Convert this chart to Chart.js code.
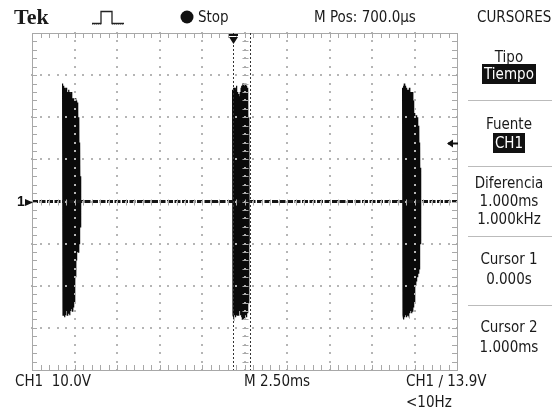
<!DOCTYPE html>
<html>
<head>
<meta charset="utf-8">
<script src="https://cdn.jsdelivr.net/npm/chart.js@4.4.1/dist/chart.umd.min.js"></script>
<style>
  body { margin: 0; background: #fff; }
  #wrap { position: relative; width: 556px; height: 416px; overflow: hidden; }
  #scope { position: absolute; left: 0; top: 0; }
  .s {
    position: absolute; white-space: nowrap; line-height: 1; color: #1a1a1a;
    font-family: "Liberation Sans Narrow", "DejaVu Sans Condensed", "Liberation Sans", sans-serif;
    font-size: 15px;
  }
  .c { left: 464px; width: 90px; text-align: center; }
  .inv { background: #111; color: #fff; padding: 1px 2px; }
  .sep { position: absolute; left: 468px; width: 84px; height: 1px; background: #bbb; }
</style>
</head>
<body>
<div id="wrap">
  <canvas id="scope" width="556" height="416"></canvas>

  <div class="s" style="left:14px;top:6px;font-family:'Liberation Serif',serif;font-weight:bold;font-size:22px;">Tek</div>
  <svg style="position:absolute;left:90px;top:8px" width="38" height="18">
    <path d="M2 15.5 H11 V3.5 H22 V15.5 H34" fill="none" stroke="#222" stroke-width="1.3"/>
    <path d="M2 16.5 H11 M22 16.5 H34" fill="none" stroke="#888" stroke-width="1" stroke-dasharray="1 1"/>
  </svg>
  <svg style="position:absolute;left:180px;top:10px" width="14" height="14"><circle cx="7" cy="7" r="6.5" fill="#111"/></svg>
  <div class="s" style="left:198px;top:10px;">Stop</div>
  <div class="s" style="left:314px;top:10px;">M Pos: 700.0µs</div>
  <div class="s" style="left:477px;top:10px;">CURSORES</div>

  <div class="s c" style="top:50px;">Tipo</div>
  <div class="s c" style="top:67px;"><span class="inv">Tiempo</span></div>
  <div class="sep" style="top:100px;"></div>
  <div class="s c" style="top:117px;">Fuente</div>
  <div class="s c" style="top:136px;"><span class="inv">CH1</span></div>
  <div class="sep" style="top:166px;"></div>
  <div class="s c" style="top:176px;">Diferencia</div>
  <div class="s c" style="top:194px;">1.000ms</div>
  <div class="s c" style="top:212px;">1.000kHz</div>
  <div class="sep" style="top:236px;"></div>
  <div class="s c" style="top:252px;">Cursor 1</div>
  <div class="s c" style="top:272px;">0.000s</div>
  <div class="sep" style="top:305px;"></div>
  <div class="s c" style="top:320px;">Cursor 2</div>
  <div class="s c" style="top:340px;">1.000ms</div>

  <div class="s" style="left:15px;top:374px;">CH1&nbsp;&nbsp;10.0V</div>
  <div class="s" style="left:244px;top:374px;">M 2.50ms</div>
  <div class="s" style="left:406px;top:374px;">CH1&nbsp;&#x2215;&nbsp;13.9V</div>
  <div class="s" style="left:406px;top:395px;">&lt;10Hz</div>
</div>

<script>
/* ==========================
   SCOPE SETTINGS
========================== */
const msPerDiv = 2.5;
const voltsPerDiv = 10;
const timeMin = -11.8;   // ms, relative to trigger (M Pos 700us)
const timeMax = 13.2;
const voltMin = -40;
const voltMax = 40;
const cursorTimes = [0.0, 1.0];
const triggerLevel = 13.9;

/* ==========================
   BURST DATA (CH1, volts)
========================== */
const burstStart = [-10.0, 0.0, 10.0];
const sampleStep = 0.025; // ms between peaks

const burst1 = [28, -27, 27.5, -26.5, 27, -27.5, 26.5, -27, 27, -26, 26.5, -27, 26, -26.5, 26.5, -26,
  26, -27, 25.5, -26, 26, -25.5, 25, -26, 24.5, -25, 24.5, -24, 24, -22, 24.5, -18, 24, -14, 23.5, -12,
  22, -12, 20, -10, 14, -6, 6, -2];
const burst2 = [26.5, -27, 27, -27.5, 27, -27, 26.5, -27.5, 27, -27, 27.5, -27, 26, -27, 25.5, -26.5,
  25, -26, 26, -27, 27, -27.5, 27.5, -28, 28, -27.5, 28, -28, 27.5, -28, 28, -27, 27.5, -27.5, 27, -26.5,
  26, -24, 20, -10];
const burst3 = [27, -27, 27.5, -28, 28, -27.5, 27.5, -27, 27, -27.5, 27, -27, 26.5, -26.5, 26.5, -27,
  27, -26.5, 26, -26, 26, -26.5, 25.5, -26, 26, -25, 24, -24, 21, -22, 20, -20, 20.5, -19, 20, -18,
  19.5, -17, 18, -16, 14, -10, 8, -3];
const bursts = [burst1, burst2, burst3];

/* ==========================
   GRATICULE PLUGIN
========================== */
const graticule = {
  id: "graticule",
  afterDatasetsDraw(chart) {
    const { ctx, chartArea: a, scales: { x, y } } = chart;
    ctx.save();

    // dotted division lines
    ctx.fillStyle = "#b5b5b5";
    for (let t = timeMin + msPerDiv; t < timeMax - 0.01; t += msPerDiv) {
      const px = Math.round(x.getPixelForValue(t));
      for (let v = voltMin; v <= voltMax; v += voltsPerDiv / 5) {
        ctx.fillRect(px - 1, Math.round(y.getPixelForValue(v)) - 1, 2, 2);
      }
    }
    for (let v = voltMin + voltsPerDiv; v < voltMax; v += voltsPerDiv) {
      const py = Math.round(y.getPixelForValue(v));
      for (let t = timeMin; t <= timeMax + 0.01; t += msPerDiv / 5) {
        ctx.fillRect(Math.round(x.getPixelForValue(t)) - 1, py - 1, 2, 2);
      }
    }

    // frame with minor ticks
    ctx.strokeStyle = "#a8a8a8";
    ctx.lineWidth = 1;
    ctx.strokeRect(a.left + 0.5, a.top + 0.5, a.right - a.left, a.bottom - a.top);
    ctx.beginPath();
    const cx = Math.round(x.getPixelForValue((timeMin + timeMax) / 2)) + 0.5;
    const cy = Math.round(y.getPixelForValue(0)) + 0.5;
    for (let t = timeMin; t <= timeMax + 0.01; t += msPerDiv / 5) {
      const px = Math.round(x.getPixelForValue(t)) + 0.5;
      ctx.moveTo(px, a.top); ctx.lineTo(px, a.top + 5);
      ctx.moveTo(px, a.bottom); ctx.lineTo(px, a.bottom - 5);
      ctx.moveTo(px, cy - 3); ctx.lineTo(px, cy + 3);
    }
    for (let v = voltMin; v <= voltMax; v += voltsPerDiv / 5) {
      const py = Math.round(y.getPixelForValue(v)) + 0.5;
      ctx.moveTo(a.left, py); ctx.lineTo(a.left + 5, py);
      ctx.moveTo(a.right, py); ctx.lineTo(a.right - 5, py);
      ctx.moveTo(cx - 3, py); ctx.lineTo(cx + 3, py);
    }
    ctx.stroke();

    // cursors
    ctx.strokeStyle = "#333";
    ctx.setLineDash([2, 2]);
    cursorTimes.forEach(t => {
      const px = Math.round(x.getPixelForValue(t)) + 0.5;
      ctx.beginPath();
      ctx.moveTo(px, a.top); ctx.lineTo(px, a.bottom);
      ctx.stroke();
    });
    ctx.setLineDash([]);

    // trigger position marker
    const tx = Math.round(x.getPixelForValue(0));
    ctx.fillStyle = "#111";
    ctx.fillRect(tx - 4, a.top + 1, 9, 2);
    ctx.beginPath();
    ctx.moveTo(tx - 4, a.top + 4); ctx.lineTo(tx + 5, a.top + 4); ctx.lineTo(tx + 0.5, a.top + 11);
    ctx.closePath(); ctx.fill();

    // trigger level arrow
    const ty = Math.round(y.getPixelForValue(triggerLevel)) + 0.5;
    ctx.strokeStyle = "#111"; ctx.lineWidth = 2;
    ctx.beginPath(); ctx.moveTo(a.right - 9, ty); ctx.lineTo(a.right + 1, ty); ctx.stroke();
    ctx.beginPath();
    ctx.moveTo(a.right - 10, ty); ctx.lineTo(a.right - 4, ty - 4); ctx.lineTo(a.right - 4, ty + 4);
    ctx.closePath(); ctx.fill();

    // ground marker "1 ->"
    ctx.font = "bold 14px 'Liberation Sans', sans-serif";
    ctx.textBaseline = "middle";
    ctx.fillText("1", a.left - 15, cy);
    ctx.beginPath();
    ctx.moveTo(a.left - 7, cy - 3.5); ctx.lineTo(a.left + 1, cy); ctx.lineTo(a.left - 7, cy + 3.5);
    ctx.closePath(); ctx.fill();

    ctx.restore();
  }
};

/* ==========================
   BUILD DATASETS
========================== */
const datasets = [{
  data: [{ x: timeMin, y: 0 }, { x: timeMax, y: 0 }],
  borderColor: "#151515",
  borderWidth: 3,
  borderDash: [6, 1.5],
  pointRadius: 0
}];

bursts.forEach((b, i) => {
  datasets.push({
    data: b.map((v, j) => ({ x: burstStart[i] + j * sampleStep, y: v })),
    borderColor: "#0a0a0a",
    borderWidth: 1.2,
    pointRadius: 0,
    tension: 0
  });
});

new Chart(document.getElementById("scope"), {
  type: "line",
  data: { datasets: datasets },
  options: {
    responsive: false,
    animation: false,
    devicePixelRatio: 1,
    layout: { padding: { left: 32, top: 33, right: 99, bottom: 46 } },
    scales: {
      x: { type: "linear", min: timeMin, max: timeMax, display: false },
      y: { type: "linear", min: voltMin, max: voltMax, display: false }
    },
    plugins: { legend: { display: false }, tooltip: { enabled: false } }
  },
  plugins: [graticule]
});
</script>
</body>
</html>
